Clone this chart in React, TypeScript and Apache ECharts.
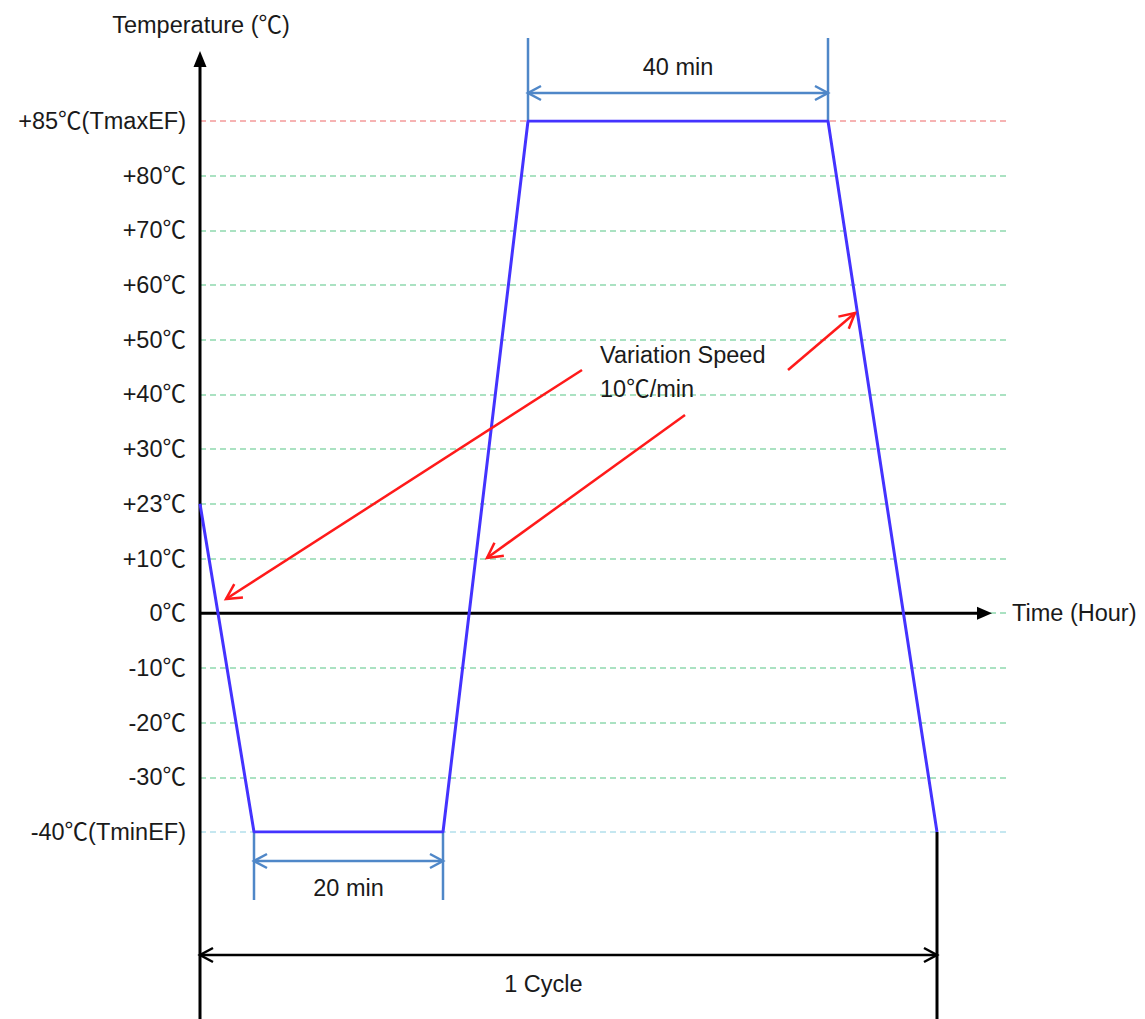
import React, { useEffect, useRef } from "react";
import * as echarts from "echarts";

// Temperature levels shown on the (schematic, evenly spaced) vertical axis
const tempLevels = [-40, -30, -20, -10, 0, 10, 23, 30, 40, 50, 60, 70, 80, 85];
const tickLabels = [
  "-40℃(TminEF)", "-30℃", "-20℃", "-10℃", "0℃", "+10℃", "+23℃",
  "+30℃", "+40℃", "+50℃", "+60℃", "+70℃", "+80℃", "+85℃(TmaxEF)",
];
// Profile break points: schematic time position and temperature
const timePoints = [0, 5.4, 24.3, 32.8, 62.8, 73.7];
const profileTemps = [23, -40, -40, 85, 85, -40];
const timeAxisMax = 80.7;
const timeAxisArrowEnd = 79.2;
const dwellLabels = ["20 min", "40 min"];
const cycleLabel = "1 Cycle";
const speedLabels = ["Variation Speed", "10℃/min"];
const axisNames = ["Temperature (℃)", "Time (Hour)"];

const FAMILY = '"Liberation Sans", "Noto Sans CJK SC", Arial, sans-serif';
const FONT = '23.5px ' + FAMILY;
const DIM = "#4f87c8";
const RED = "#ff1a1a";

function chevron(tip: number[], from: number[], len: number, half: number) {
  const dx = tip[0] - from[0];
  const dy = tip[1] - from[1];
  const L = Math.hypot(dx, dy) || 1;
  const ux = dx / L, uy = dy / L;
  const bx = tip[0] - ux * len, by = tip[1] - uy * len;
  return [
    [bx - uy * half, by + ux * half],
    [tip[0], tip[1]],
    [bx + uy * half, by - ux * half],
  ];
}

export default function App() {
  const ref = useRef<HTMLDivElement>(null);
  useEffect(() => {
    if (!ref.current) return;
    const chart = echarts.init(ref.current, null, { renderer: "svg" });
    const gridColors = tempLevels.map((t) =>
      t === 85 ? "#f49a9a" : t === -40 ? "#b3e0ec" : "#8fd9ae"
    );
    const data = timePoints.map((x, i) => [x, tempLevels.indexOf(profileTemps[i])]);
    chart.setOption({
      animation: false,
      backgroundColor: "#ffffff",
      grid: { left: 200, right: 138, top: 121, bottom: 187, containLabel: false },
      xAxis: {
        type: "value",
        min: 0,
        max: timeAxisMax,
        show: false,
        splitLine: { show: false },
      },
      yAxis: {
        type: "category",
        data: tickLabels,
        boundaryGap: false,
        axisLine: { show: false },
        axisTick: { show: false },
        axisLabel: {
          color: "#1a1a1a",
          fontSize: 23.5,
          fontFamily: FAMILY,
          margin: 14,
        },
        splitLine: {
          show: true,
          showMinLine: true,
          showMaxLine: true,
          lineStyle: { color: gridColors, width: 1.5, type: [6, 4] },
        },
      },
      series: [
        {
          type: "line",
          data,
          symbol: "none",
          z: 5,
          lineStyle: { color: "#4433ff", width: 3 },
        },
      ],
    });

    const P = (x: number, yi: number) =>
      chart.convertToPixel({ gridIndex: 0 } as any, [x, yi]) as number[];
    const zeroIdx = tempLevels.indexOf(0);
    const [x0, y0] = P(0, zeroIdx);
    const yBottom = P(0, 0)[1];
    const yTop = P(0, tempLevels.length - 1)[1];
    const H = chart.getHeight();
    const xArrow = P(timeAxisArrowEnd, zeroIdx)[0];
    const xs = timePoints.map((t) => P(t, zeroIdx)[0]);

    const g: any[] = [];
    const line = (x1: number, y1: number, x2: number, y2: number, stroke: string, w: number, z = 1) =>
      g.push({ type: "line", z, shape: { x1, y1, x2, y2 }, style: { stroke, lineWidth: w } });
    const open = (pts: number[][], stroke: string, w: number, z = 1) =>
      g.push({ type: "polyline", z, shape: { points: pts }, style: { stroke, lineWidth: w, fill: null } });
    const text = (s: string, x: number, y: number, align: string) =>
      g.push({
        type: "text", z: 10, x, y,
        style: { text: s, font: FONT, fill: "#1a1a1a", align, verticalAlign: "middle" },
      });
    const dimArrow = (xa: number, xb: number, y: number, stroke: string, w: number) => {
      line(xa, y, xb, y, stroke, w);
      open(chevron([xa, y], [xb, y], 13, 7), stroke, w);
      open(chevron([xb, y], [xa, y], 13, 7), stroke, w);
    };

    // vertical (temperature) axis with arrow
    line(x0, H, x0, 64, "#000", 3, 3);
    g.push({ type: "polygon", z: 3, shape: { points: [[x0, 51], [x0 - 6.5, 67], [x0 + 6.5, 67]] }, style: { fill: "#000" } });
    // horizontal (time) axis through 0℃ with arrow
    line(x0, y0, xArrow - 10, y0, "#000", 3, 3);
    g.push({ type: "polygon", z: 3, shape: { points: [[xArrow, y0], [xArrow - 15, y0 - 6.5], [xArrow - 15, y0 + 6.5]] }, style: { fill: "#000" } });

    // 20 min dwell at Tmin
    line(xs[1], yBottom, xs[1], yBottom + 68, DIM, 2.5);
    line(xs[2], yBottom, xs[2], yBottom + 68, DIM, 2.5);
    dimArrow(xs[1], xs[2], yBottom + 29, DIM, 2.5);
    text(dwellLabels[0], (xs[1] + xs[2]) / 2, yBottom + 56, "center");

    // 40 min dwell at Tmax
    line(xs[3], yTop - 83, xs[3], yTop, DIM, 2.5);
    line(xs[4], yTop - 83, xs[4], yTop, DIM, 2.5);
    dimArrow(xs[3], xs[4], yTop - 28, DIM, 2.5);
    text(dwellLabels[1], (xs[3] + xs[4]) / 2, yTop - 54, "center");

    // 1 cycle
    line(xs[5], yBottom, xs[5], H, "#000", 3, 3);
    dimArrow(x0, xs[5], yBottom + 123, "#000", 2.5);
    text(cycleLabel, x0 + (xs[5] - x0) * 0.466, yBottom + 152, "center");

    // variation speed annotation arrows
    const redArrows = [
      [[582, 370], [226, 599]],
      [[685, 415], [487, 558]],
      [[788, 370], [855, 313]],
    ];
    redArrows.forEach(([from, tip]) => {
      line(from[0], from[1], tip[0], tip[1], RED, 2.5, 10);
      open(chevron(tip, from, 15, 8), RED, 2.5, 10);
    });
    text(speedLabels[0], 600, 355, "left");
    text(speedLabels[1], 600, 389, "left");

    // axis names
    text(axisNames[0], x0 + 1, 25, "center");
    text(axisNames[1], 1012, y0, "left");

    chart.setOption({ graphic: { elements: g } });
    return () => chart.dispose();
  }, []);
  return (
    <div
      ref={ref}
      style={{ position: "fixed", left: 0, top: 0, width: 1145, height: 1019, background: "#fff" }}
    />
  );
}
